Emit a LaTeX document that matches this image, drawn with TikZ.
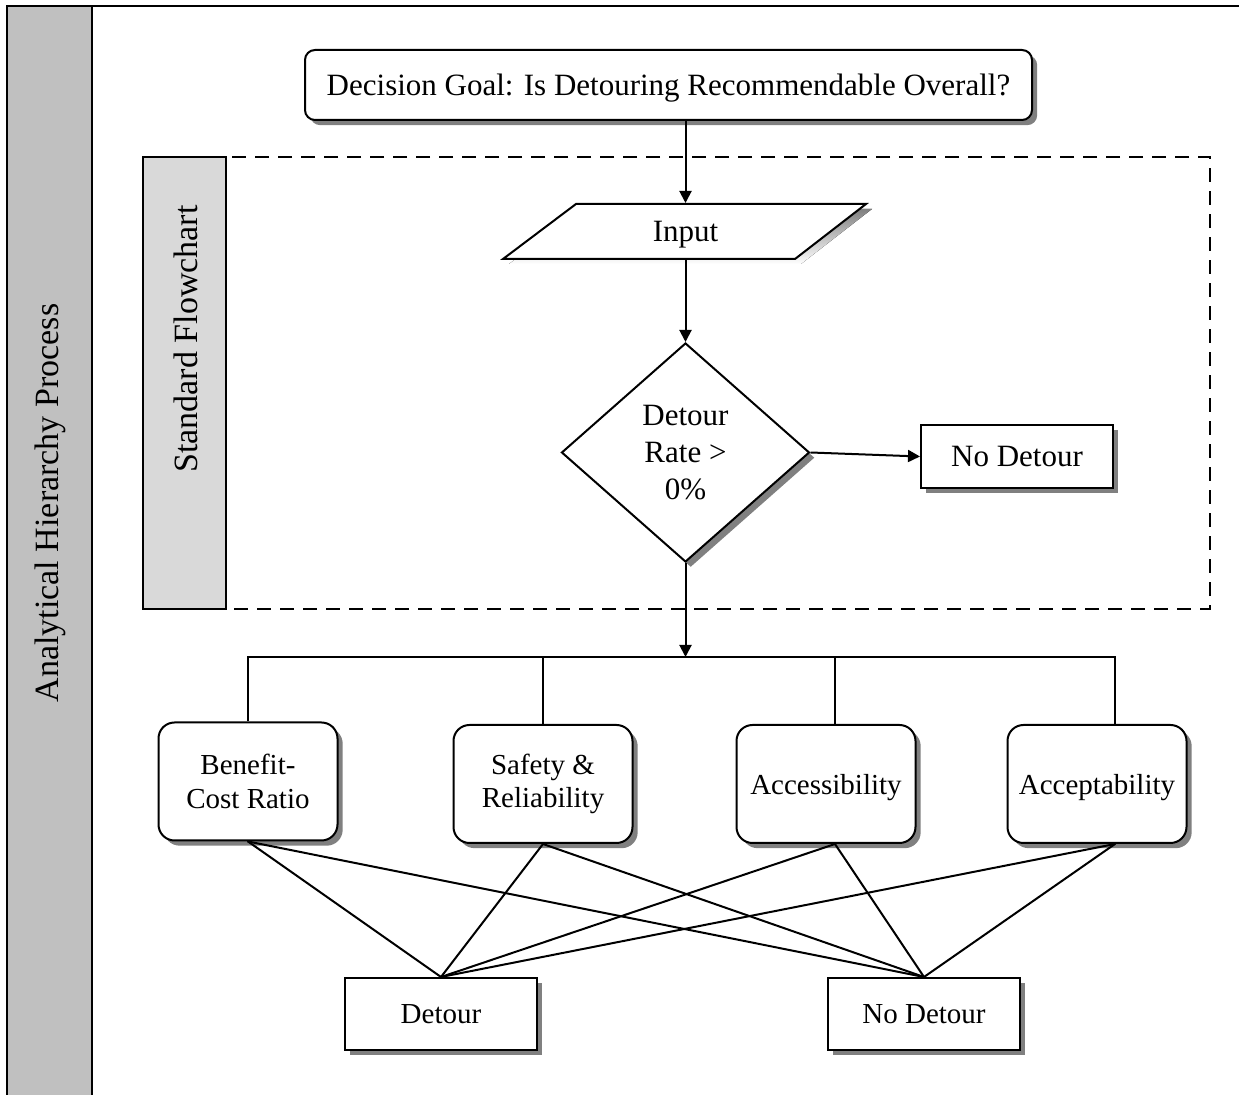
\documentclass[tikz,border=0pt]{standalone}
\usepackage{fontspec}
\setmainfont{Liberation Serif}
\usetikzlibrary{shapes.geometric,shadows,arrows.meta,calc}
\definecolor{bandA}{RGB}{192,192,192}
\definecolor{bandB}{RGB}{217,217,217}
\definecolor{shade}{RGB}{128,128,128}
\begin{document}
\begin{tikzpicture}[x=0.5pt,y=-0.5pt,line width=1pt,
  shadowed/.style={drop shadow={shadow xshift=2.6pt,shadow yshift=-2.6pt,fill=shade,opacity=1}},
  bigtext/.style={font=\fontsize{15.5pt}{18.5pt}\selectfont},
  smalltext/.style={font=\fontsize{14.5pt}{16.8pt}\selectfont},
  oneline/.style={text depth=0pt},
  bandtext/.style={font=\fontsize{17pt}{20pt}\selectfont,rotate=90},
  goalbox/.style={draw,fill=white,rounded corners=5pt,minimum width=363.5pt,minimum height=35pt,inner sep=0pt,shadowed,bigtext,oneline},
  decbox/.style={draw,fill=white,diamond,minimum width=124pt,minimum height=109.5pt,inner sep=0pt,shadowed,bigtext,align=center},
  endbox/.style={draw,fill=white,minimum width=96pt,minimum height=31.5pt,inner sep=0pt,shadowed,bigtext,oneline},
  critbox/.style={draw,fill=white,rounded corners=8pt,minimum width=89.5pt,minimum height=59pt,inner sep=0pt,shadowed,smalltext,align=center},
  altbox/.style={draw,fill=white,minimum width=96pt,minimum height=36pt,inner sep=0pt,shadowed,smalltext,oneline},
  arr/.style={-{Triangle[length=6pt,width=6pt]}},
  link/.style={line cap=round}]
\useasboundingbox (0,0) rectangle (1239,1095);
\clip (0,0) rectangle (1239,1095);

% outer frame and side band
\draw (7,6) rectangle (1260,1120);
\filldraw[fill=bandA] (7,6) rectangle (92,1120);
\node[bandtext] (ahp) at (50,503) {Analytical Hierarchy Process};

% flowchart band and dashed frame
\draw[dash pattern=on 7pt off 4.5pt] (226,157) rectangle (1210,609);
\filldraw[fill=bandB] (143,157) rectangle (226,609);
\node[bandtext] (sf) at (186,339) {Standard Flowchart};

% goal
\node[goalbox] (goal) at (668.5,85) {Decision Goal: Is Detouring Recommendable Overall?};

% input parallelogram
\fill[shade] (582,209) -- (872,209) -- (801,264) -- (509,264) -- cycle;
\filldraw[fill=white] (576,204) -- (866,204) -- (795,259) -- (503,259) -- cycle;
\node[bigtext,oneline,minimum height=27.5pt,inner sep=0pt] (input) at (685.5,231.5) {Input};

% decision and early exit
\node[decbox] (dec) at (685.5,452.5) {Detour\\Rate >\\0\%};
\node[endbox] (nd1) at (1017,456.5) {No Detour};

% criteria
\node[critbox] (bcr) at (248,781.5) {Benefit-\\Cost Ratio};
\node[critbox] (sr) at (543,784) {Safety \&\\Reliability};
\node[critbox,oneline] (acs) at (826,784) {Accessibility};
\node[critbox,oneline] (acp) at (1097,784) {Acceptability};

% alternatives
\node[altbox] (det) at (441,1014) {Detour};
\node[altbox] (nod) at (924,1014) {No Detour};

% attachment points and bar level
\coordinate (acsT) at ($(acs.north)+(9,0)$);
\coordinate (acsB) at ($(acs.south)+(9,0)$);
\coordinate (acpT) at ($(acp.north)+(18,0)$);
\coordinate (acpB) at ($(acp.south)+(18,0)$);
\coordinate (bar) at (685.5,657);

% flow arrows
\draw[arr] (input.north |- goal.south) -- (input.north);
\draw[arr] (input.south) -- (dec.north);
\draw[arr] (dec.east) -- (nd1.west);
\draw[arr] (dec.south) -- (dec.south |- bar);

% hierarchy bar
\draw (bcr.north) -- (bcr.north |- bar) -- (acpT |- bar) -- (acpT);
\draw (sr.north) -- (sr.north |- bar);
\draw (acsT) -- (acsT |- bar);

% criteria to alternatives
\foreach \c in {bcr.south,sr.south,acsB,acpB}{
  \draw[link] (\c) -- (det.north);
  \draw[link] (\c) -- (nod.north);
}
\end{tikzpicture}
\end{document}
